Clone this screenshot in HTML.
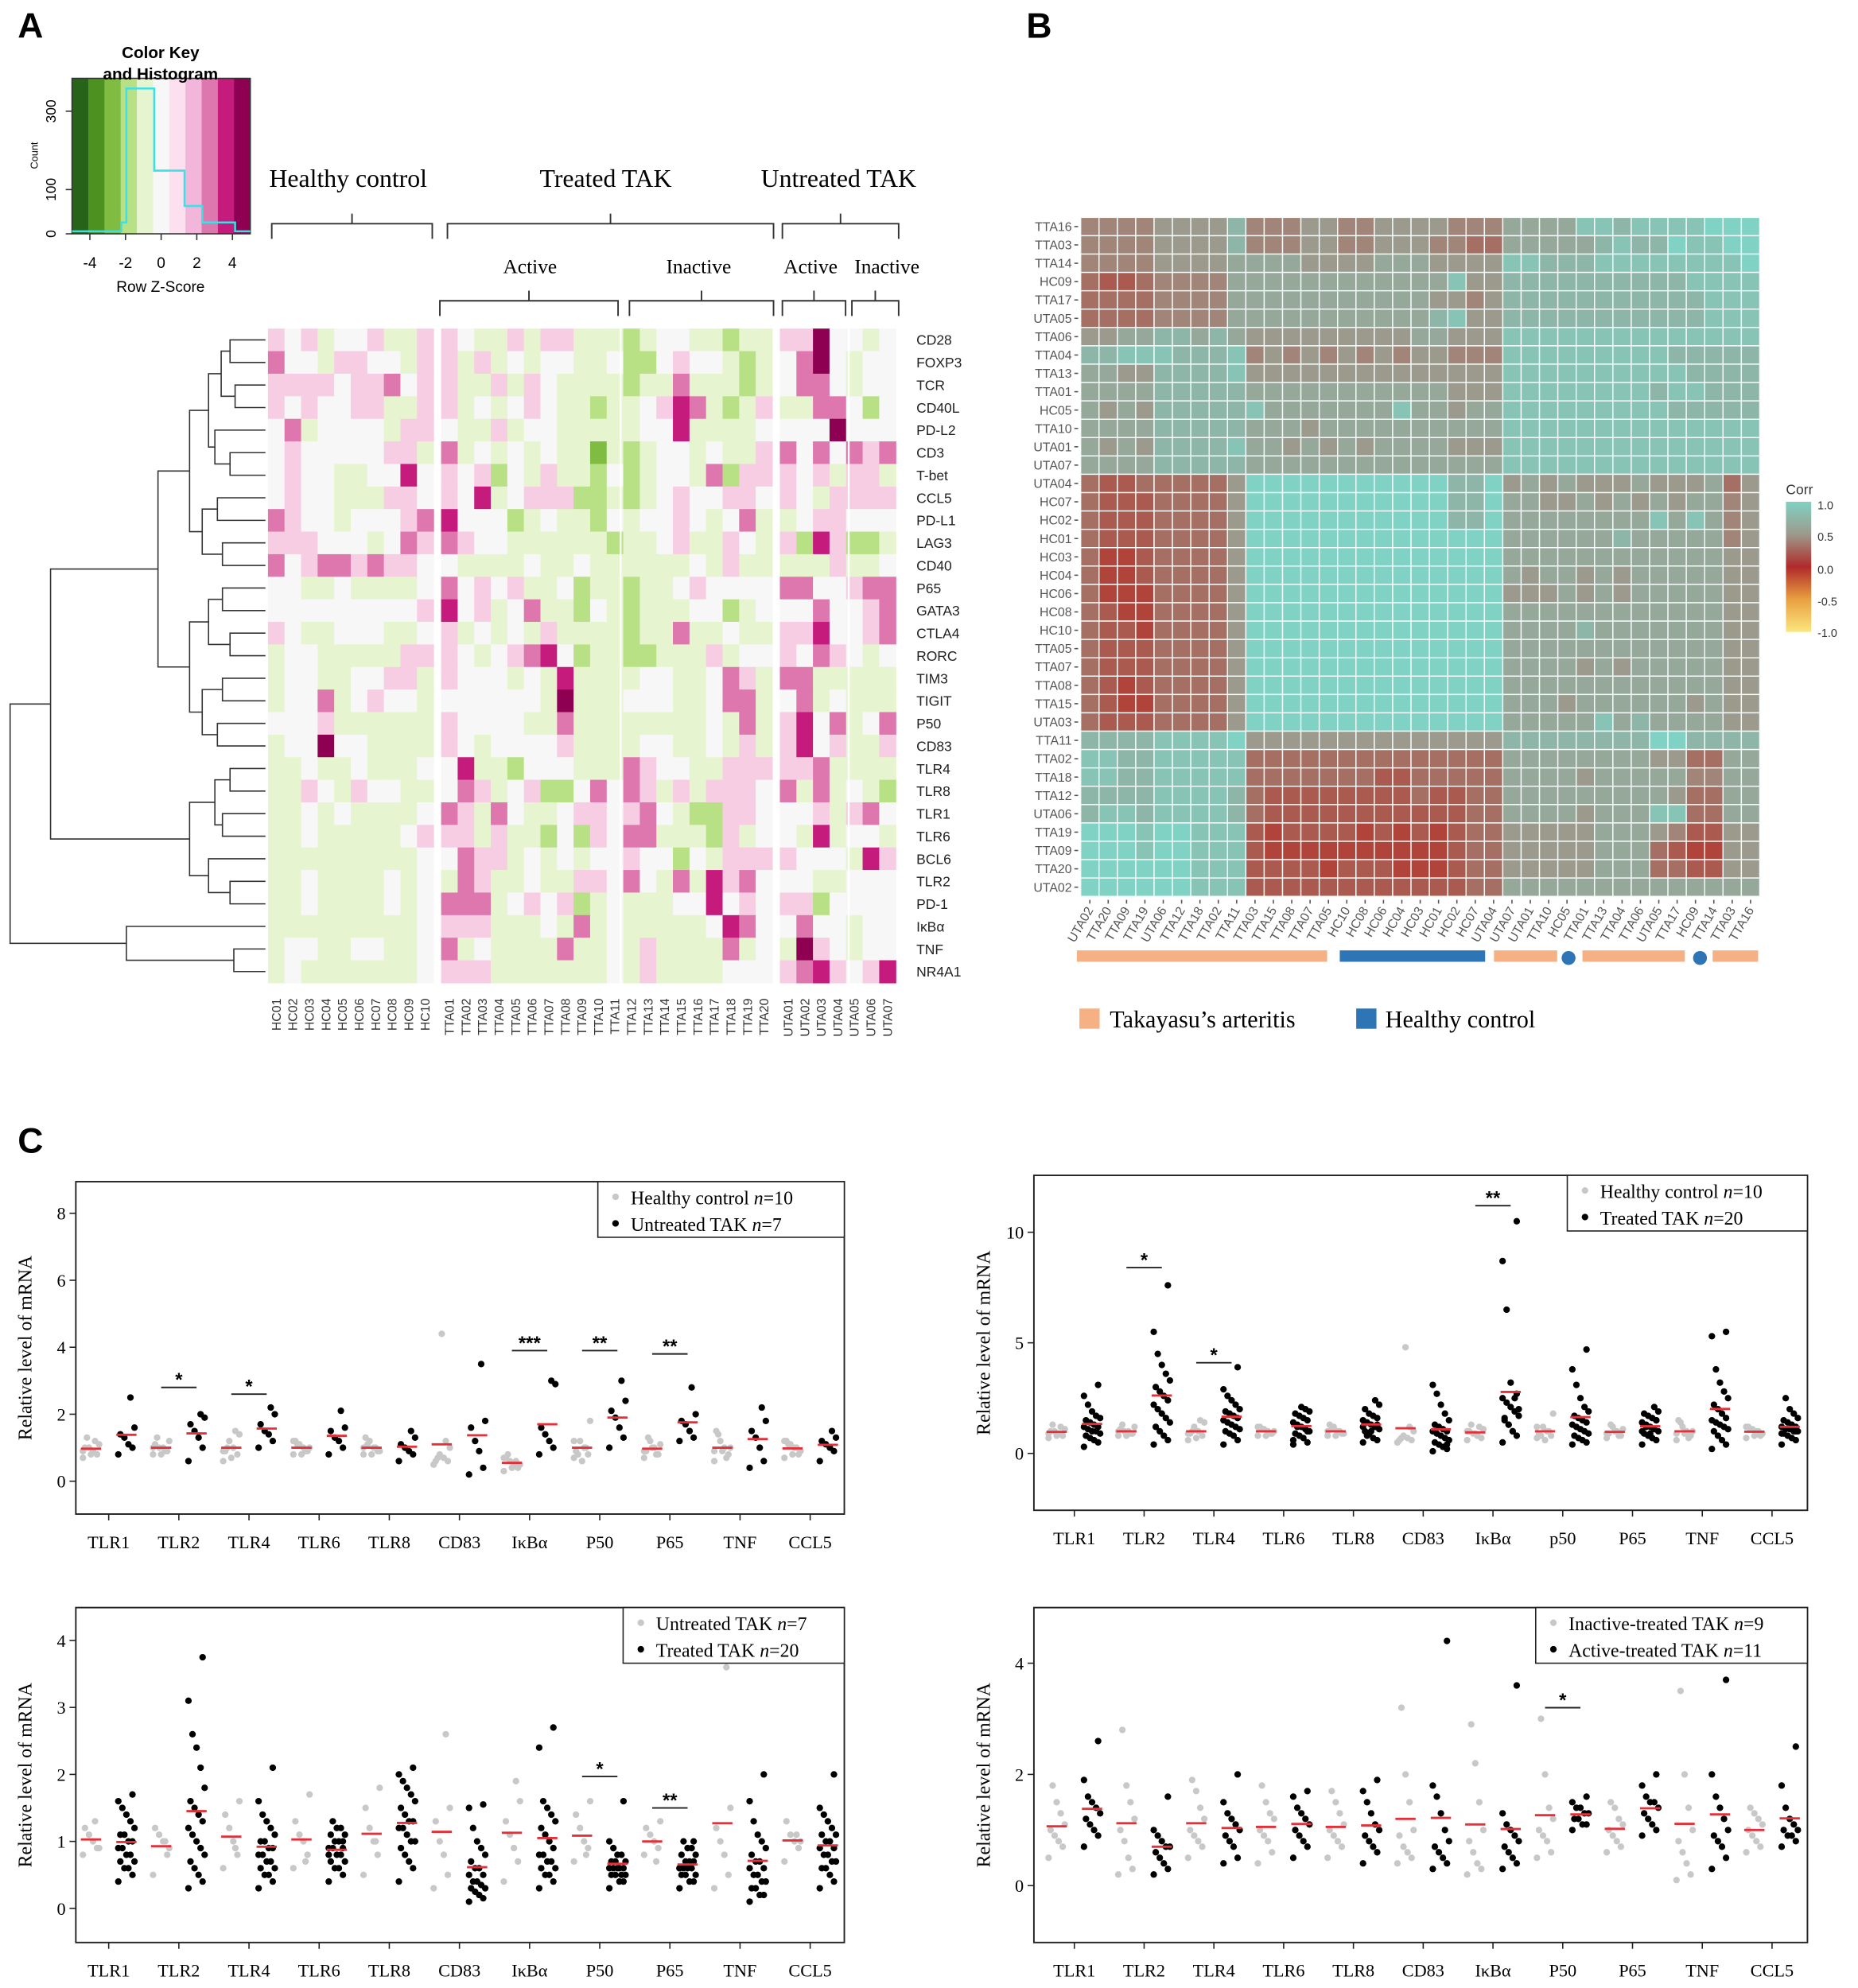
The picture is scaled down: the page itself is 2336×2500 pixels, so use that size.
<!DOCTYPE html>
<html><head><meta charset="utf-8"><style>
html,body{margin:0;padding:0;background:#fff}
svg{display:block}
</style></head><body>
<svg id="fig" xmlns="http://www.w3.org/2000/svg" width="2336" height="2500" viewBox="0 0 1470 1573" preserveAspectRatio="none" font-family="Liberation Sans, sans-serif">
<rect width="1470" height="1573" fill="#fff"/>
<text x="14" y="30" font-size="28" font-weight="bold">A</text>
<text x="812" y="30" font-size="28" font-weight="bold">B</text>
<text x="14" y="912" font-size="28" font-weight="bold">C</text>
<g id="gA"></g>
<g id="gB"></g>
<g id="gC"></g>
</svg>
<script>
const NS="http://www.w3.org/2000/svg";
function el(parent,tag,attrs,txt){const e=document.createElementNS(NS,tag);for(const k in attrs)e.setAttribute(k,attrs[k]);if(txt!==undefined)e.textContent=txt;parent.appendChild(e);return e;}

// ================= Panel A data =================
const genes=["CD28","FOXP3","TCR","CD40L","PD-L2","CD3","T-bet","CCL5","PD-L1","LAG3","CD40","P65","GATA3","CTLA4","RORC","TIM3","TIGIT","P50","CD83","TLR4","TLR8","TLR1","TLR6","BCL6","TLR2","PD-1","IκBα","TNF","NR4A1"];
const samplesA=["HC01","HC02","HC03","HC04","HC05","HC06","HC07","HC08","HC09","HC10","TTA01","TTA02","TTA03","TTA04","TTA05","TTA06","TTA07","TTA08","TTA09","TTA10","TTA11","TTA12","TTA13","TTA14","TTA15","TTA16","TTA17","TTA18","TTA19","TTA20","UTA01","UTA02","UTA03","UTA04","UTA05","UTA06","UTA07"];
const zrows=[
"pwplwwpllp"+"pwllplppllll".slice(0,11)+"glwwllgll"+"ppMw"+"wlw",
"qwwlppwwlp"+"plplwlwwllw"+"ggwpwwlgl"+"wqMw"+"lww",
"ppppwppqwp"+"pllplpwllll"+"gllqlllgl"+"wqqw"+"lww",
"pwpwwppllp"+"plwlwpwllgl"+"lwpmqlglp"+"llqq"+"wgw",
"wqlwwwwlpp"+"wllplwwllll"+"lwwmlllll".slice(0,8)+"w"+"wwwM"+"www",
"wpwwwwwppl"+"qlwlwlwllGl"+"glwwlwllp"+"qwqw"+"qpq",
"wpwwllwwmw"+"pwpgwlpllgw"+"glwwlqgpp"+"pwpl"+"ppl",
"wpwwlllppw"+"pwmlwpppggl"+"glwpwwppw"+"pwlp"+"ppp",
"qpwwlwwwpq"+"mwwwglwllgw"+"lwwpwlwql"+"lwpp"+"www",
"pppwwwlwqp"+"qpwwllllllgl".slice(0,11)+"llwpllpwl"+"pgmp"+"ggl",
"qwpqqpqppw"+"wllllwllwll"+"llllwlpll"+"lllp"+"llw",
"wwllwllllw"+"qwpwpllwgll"+"gllwpwwww"+"qqww"+"pqq",
"wwwwwwwwwp"+"mwplwqllgwl"+"glllwwglw"+"wwqw"+"wpq",
"pwllwwwllw"+"plwlwlplll"+"l"+"gllqllwll"+"ppmw"+"wpq",
"lwwlllllp".slice(0,9)+"p"+"pwlwpqmwgll"+"gglllplw".slice(0,8)+"w"+"pwqp"+"wlw",
"lwwllwwppl"+"pwwwlwlmlll"+"lwwllwqpl"+"qqll"+"lll",
"lwwqlwpwwl"+"wwwwwwlMlll"+"wwwllwqql"+"wqlw"+"lll",
"wwwpllllll"+"pwwwwllqlll"+"lllllwlql"+"pmwq"+"lwq",
"lwwMwwllll"+"pwlwwwwplll"+"lwwllwlpl"+"pmwp"+"llp",
"llwllwlllw"+"wmllgwwwlll"+"qpwwllppp"+"ppql"+"lll",
"llpwlpwwll"+"wqplwpggwqw"+"qplplpppw"+"qlql"+"wlg",
"llwlwllllw"+"qplqwllwppw"+"pqwlggppw"+"wwpl"+"pqw",
"llwlllllwp"+"pplpllgwgpw"+"qqlllgplw"+"wlml"+"wwl",
"lllllllllw"+"wqpplwlwlww"+"pwwgwlppp"+"pwww"+"lmp",
"llwllllwlw"+"lqpllwllppw"+"qwlqlmpqw"+"wwll"+"www",
"llwllllwlw"+"qqqlwpwpglw"+"lllwwmwpw"+"ppgw"+"www",
"lllllllllw"+"ppplllwlqlw".slice(0,11)+"lllllwmqw"+"wqww"+"lww",
"lwwllwwllw"+"qlwllllqllw"+"lpllllqlw"+"lMpw"+"lww",
"lwlllllllw"+"ppplllllllw"+"lpllllwww"+"pqmp"+"wpm"
];
const zcolors={M:"#8e0152",m:"#c51b7d",q:"#de77ae",p:"#f7cde3",w:"#f7f7f7",l:"#e6f5d0",g:"#b8e186",G:"#7fbc41"};
const tree=[8,[40,[125,[150,[165,[175,[182,0,1],[186,2,3]],[170,4,[182,5,6]]],[160,[172,7,8],[176,9,10]]],[150,[165,[176,11,12],[182,13,14]],[160,[176,15,16],[172,17,18]]]],[150,[170,[182,19,20],[176,21,22]],[165,23,[182,24,25]]]],[100,26,[185,27,28]]];

(function(){
 const g=document.getElementById("gA");
 const cw=13.1, rh=17.85, y0=260;
 function colX(i){ if(i<10) return 212+i*cw; if(i<30) return 349+(i-10)*cw; return 617+(i-30)*cw; }
 for(let r=0;r<genes.length;r++){
  const row=zrows[r];
  for(let c=0;c<samplesA.length;c++){
   const ch=row[c]||"w";
   const rc=el(g,"rect",{x:colX(c).toFixed(2),y:(y0+r*rh).toFixed(2),width:cw+0.4,height:rh+0.4,fill:zcolors[ch]||"#f7f7f7"});
   
   
  }
  const t=el(g,"text",{x:725,y:(y0+r*rh+rh/2+4).toFixed(1),"font-size":11,fill:"#222"},genes[r]);
  
  
 }
 // divider between TTA11 and TTA12
 el(g,"line",{x1:491,y1:260,x2:491,y2:778,stroke:"#fff","stroke-width":1.5});
 el(g,"line",{x1:671.5,y1:260,x2:671.5,y2:778,stroke:"#fff","stroke-width":1.5});
 for(let c=0;c<samplesA.length;c++){
  const x=colX(c)+cw/2+3.5;
  const t=el(g,"text",{x:x,y:790,"font-size":10,fill:"#333","text-anchor":"end",transform:`rotate(-90 ${x} 790)`},samplesA[c]);
  
  
 }
 // dendrogram
 function draw(node){
  if(typeof node==="number") return {x:210,y:y0+node*rh+rh/2};
  const a=draw(node[1]), b=draw(node[2]), hx=node[0];
  el(g,"path",{d:`M${a.x},${a.y}H${hx}V${b.y}H${b.x}`,fill:"none",stroke:"#333","stroke-width":1});
  return {x:hx,y:(a.y+b.y)/2};
 }
 draw(tree);
 // headers
 const hdr=[["Healthy  control",213,148],["Treated TAK",427,148],["Untreated TAK",602,148]];
 hdr.forEach(h=>{const t=el(g,"text",{x:h[1],y:h[2],"font-size":20,"font-family":"Liberation Serif, serif"},h[0]);});
 const sub=[["Active",398,216],["Inactive",527,216],["Active",620,216],["Inactive",676,216]];
 sub.forEach(h=>{const t=el(g,"text",{x:h[1],y:h[2],"font-size":16,"font-family":"Liberation Serif, serif"},h[0]);});
 function brace(x1,x2,y){el(g,"path",{d:`M${x1},${y+12}V${y}H${x2}V${y+12}M${(x1+x2)/2},${y}V${y-8}`,fill:"none",stroke:"#333","stroke-width":1.2});}
 brace(215,342,177);brace(354,612,177);brace(619,711,177);
 brace(348,489,238);brace(498,612,238);brace(619,669,238);brace(674,711,238);
 // color key
 const keyCols=["#276419","#4d9221","#7fbc41","#b8e186","#e6f5d0","#f7f7f7","#fde0ef","#f1b6da","#de77ae","#c51b7d","#8e0152"];
 const kx=57,kw=141/keyCols.length;
 keyCols.forEach((c,i)=>{el(g,"rect",{x:kx+i*kw,y:62,width:kw+0.3,height:123,fill:c});});
 el(g,"rect",{x:57,y:62,width:141,height:123,fill:"none",stroke:"#333","stroke-width":1});
 el(g,"path",{d:"M57,183H96V176H100V70H122V135H146V163H160V176H186V183H198",fill:"none",stroke:"#3ee0e8","stroke-width":1.6});
 el(g,"text",{x:127,y:46,"font-size":13,"font-weight":"bold","text-anchor":"middle"},"Color Key");
 el(g,"text",{x:127,y:63,"font-size":13,"font-weight":"bold","text-anchor":"middle"},"and Histogram");
 [-4,-2,0,2,4].forEach(v=>{const x=57+ (v+5)/10*141;el(g,"line",{x1:x,y1:185,x2:x,y2:190,stroke:"#333"});el(g,"text",{x:x,y:212,"font-size":12,"text-anchor":"middle"},String(v));});
 el(g,"text",{x:127,y:231,"font-size":12,"text-anchor":"middle"},"Row Z-Score");
 [[0,185],[100,150],[300,88]].forEach(p=>{el(g,"line",{x1:52,y1:p[1],x2:57,y2:p[1],stroke:"#333"});el(g,"text",{x:44,y:p[1],"font-size":11,"text-anchor":"middle",transform:`rotate(-90 44 ${p[1]})`},String(p[0]));});
 el(g,"text",{x:30,y:123,"font-size":8,"text-anchor":"middle",transform:"rotate(-90 30 123)"},"Count");
})();

// ================= Panel B data =================
const colsB=["UTA02","TTA20","TTA09","TTA19","UTA06","TTA12","TTA18","TTA02","TTA11","TTA03","TTA15","TTA08","TTA07","TTA05","HC10","HC08","HC06","HC04","HC03","HC01","HC02","HC07","UTA04","UTA07","UTA01","TTA10","HC05","TTA01","TTA13","TTA04","TTA06","UTA05","TTA17","HC09","TTA14","TTA03","TTA16"];
const rowsB=["TTA16","TTA03","TTA14","HC09","TTA17","UTA05","TTA06","TTA04","TTA13","TTA01","HC05","TTA10","UTA01","UTA07","UTA04","HC07","HC02","HC01","HC03","HC04","HC06","HC08","HC10","TTA05","TTA07","TTA08","TTA15","UTA03","TTA11","TTA02","TTA18","TTA12","UTA06","TTA19","TTA09","TTA20","UTA02"];
const corrB=[
"444455557"+"44455445555444"+"66668878888999",
"444455557"+"44455445554433"+"66666787798899",
"444455556"+"66655556665555"+"88777888888889",
"322344446"+"66666666666855"+"77777777778888",
"333344446"+"66666666665545"+"77777777777888",
"333344446"+"66666666667855"+"77777777777888",
"556677676"+"55555555566555"+"88888888888888",
"778887778"+"45454545455444"+"88888888877777",
"665577778"+"55555555555555"+"88888888887777",
"666677777"+"66666666666555"+"88888888788777",
"656577777"+"86666666866566"+"88888888877777",
"666677777"+"66656666666666"+"88888888888888",
"656577778"+"66565656666555"+"88888888888888",
"666677777"+"66666666666666"+"88888888888888",
"322333335"+"99999999999779"+"56565556555635",
"322233335"+"99999999999779"+"66556565656645",
"322233335"+"99999999999779"+"66666666868645",
"322233335"+"99999999999999"+"66666676666645",
"311233335"+"99999999999999"+"66666666666655",
"311233335"+"99999999999999"+"65665656666655",
"311133335"+"99999999999999"+"55565656666655",
"321133335"+"99999999999999"+"66666666666655",
"322133335"+"99999999999999"+"66667666666655",
"322233335"+"99999999999999"+"66666666666655",
"322233335"+"99999999999999"+"66665656666655",
"321233335"+"99999999999999"+"66666666666655",
"321133335"+"99999999999999"+"66656666665655",
"322233335"+"99999999999999"+"66666867666655",
"777788889"+"55555555555555"+"77777777997777",
"887788888"+"33333333333333"+"66666666553366",
"887788888"+"33333332233333"+"66665666664466",
"777788887"+"32222222232233"+"66666666653366",
"788788887"+"32222222222233"+"66665666883366",
"999899888"+"21222212121233"+"55555666542255",
"999899888"+"21111111111233"+"55555666321155",
"999999888"+"22221222111233"+"55555666332255",
"999999888"+"22222222222233"+"66666666666666"
];
(function(){
 const g=document.getElementById("gB");
 const x0=855,y0=172,cs=14.52;
 const red=[176,68,58],gray=[156,154,140],cyan=[128,210,196];
 function lerp(a,b,t){return a.map((v,i)=>Math.round(v+(b[i]-v)*t));}
 function col(d){let c; if(d<=5) c=lerp(red,gray,Math.max(0,(d-1)/4)); else c=lerp(gray,cyan,(d-5)/4); return `rgb(${c})`;}
 for(let r=0;r<rowsB.length;r++){
  for(let c=0;c<colsB.length;c++){
   const d=+corrB[r][c];
   const rc=el(g,"rect",{x:(x0+c*cs).toFixed(2),y:(y0+r*cs).toFixed(2),width:cs,height:cs,fill:col(d),stroke:"#f4fbfa","stroke-width":0.9});
   
   
  }
  const t=el(g,"text",{x:848,y:(y0+r*cs+cs/2+3.5).toFixed(1),"font-size":10,fill:"#555","text-anchor":"end"},rowsB[r]);
  
  
  el(g,"line",{x1:850,y1:y0+r*cs+cs/2,x2:853,y2:y0+r*cs+cs/2,stroke:"#555"});
 }
 for(let c=0;c<colsB.length;c++){
  const x=x0+c*cs+cs/2;
  el(g,"line",{x1:x,y1:712,x2:x,y2:715,stroke:"#555"});
  const t=el(g,"text",{x:x+3,y:720,"font-size":10,fill:"#555","text-anchor":"end",transform:`rotate(-60 ${x+3} 720)`},colsB[c]);
  
  
 }
 // Corr legend
 el(g,"text",{x:1413,y:391,"font-size":11,fill:"#333"},"Corr");
 const defs=el(g,"defs",{});
 const lg=el(defs,"linearGradient",{id:"corrg",x1:0,y1:0,x2:0,y2:1});
 [["0","#80d2c4"],["0.25","#9c9a8c"],["0.5","#b02a2a"],["0.75","#e8a040"],["1","#fbe680"]].forEach(s=>el(lg,"stop",{offset:s[0],"stop-color":s[1]}));
 el(g,"rect",{x:1413,y:397,width:20,height:103,fill:"url(#corrg)"});
 [["1.0",400],["0.5",425],["0.0",451],["-0.5",476],["-1.0",501]].forEach(t=>el(g,"text",{x:1438,y:t[1]+3,"font-size":9,fill:"#333"},t[0]));
 // group bars
 const orange="#f5b183", blue="#2e75b6";
 [[852,1050,orange],[1060,1175,blue],[1182,1232,orange],[1252,1333,orange],[1355,1391,orange]].forEach(b=>{const r=el(g,"rect",{x:b[0],y:752,width:b[1]-b[0],height:9,fill:b[2]});});
 el(g,"circle",{cx:1241,cy:758,r:5.5,fill:blue});
 el(g,"circle",{cx:1345,cy:758,r:5.5,fill:blue});
 el(g,"rect",{x:854,y:798,width:16,height:16,fill:orange});
 const t1=el(g,"text",{x:878,y:813,"font-size":19,"font-family":"Liberation Serif, serif"},"Takayasu’s arteritis");
 
 el(g,"rect",{x:1073,y:798,width:16,height:16,fill:blue});
 const t2=el(g,"text",{x:1096,y:813,"font-size":19,"font-family":"Liberation Serif, serif"},"Healthy  control");
 
})();

// ================= Panel C data =================
const catsP1=["TLR1","TLR2","TLR4","TLR6","TLR8","CD83","IκBα","P50","P65","TNF","CCL5"];
const catsP2=["TLR1","TLR2","TLR4","TLR6","TLR8","CD83","IκBα","p50","P65","TNF","CCL5"];
// Plot 1: Healthy control vs Untreated TAK
const p1Gray=["0.7 0.8 0.9 1.0 1.0 1.1 1.2 0.8 1.3 0.9","0.8 0.9 1.0 1.0 1.1 1.2 0.9 0.8 1.3 1.0","0.6 0.8 1.0 1.2 0.9 1.4 1.5 0.7 1.0 0.9","0.8 0.9 1.0 1.1 1.2 1.0 0.9 0.8 1.1 1.2","0.8 0.9 1.0 1.2 1.3 0.9 1.0 0.8 1.1 1.0","0.5 0.6 0.7 0.8 0.6 1.0 1.2 4.4 0.7 0.5","0.3 0.4 0.5 0.6 0.7 0.5 0.6 0.4 0.8 0.7","0.7 0.8 1.0 1.2 0.9 1.8 1.0 0.6 0.8 1.2","0.7 0.8 1.0 1.2 0.9 1.1 0.8 1.0 1.3 0.9","0.6 0.8 1.0 1.2 1.5 1.0 0.7 0.9 1.4 0.9","0.7 0.8 1.0 1.1 1.2 0.9 1.0 0.8 1.1 1.2"];
const p1Black=["0.8 1.0 1.1 1.3 1.4 1.6 2.5","0.6 1.0 1.3 1.5 1.7 1.9 2.0","1.0 1.2 1.4 1.5 1.7 2.0 2.2","0.8 1.0 1.2 1.3 1.5 1.6 2.1","0.6 0.8 0.9 1.0 1.1 1.3 1.5","0.2 0.4 0.9 1.2 1.6 1.8 3.5","0.8 1.0 1.2 1.4 1.6 2.9 3.0","1.0 1.3 1.6 1.9 2.1 2.4 3.0","1.2 1.3 1.5 1.7 1.8 2.0 2.8","0.4 0.6 1.0 1.3 1.5 1.8 2.2","0.6 0.9 1.0 1.1 1.2 1.3 1.5"];
const p1Yticks=[0,2,4,6,8];
const p1Sig=[[1,2.8,"*"],[2,2.6,"*"],[6,3.9,"***"],[7,3.9,"**"],[8,3.8,"**"]];
// Plot 2: Healthy control vs Treated TAK
const p2Gray=["0.7 0.8 0.9 1.0 1.0 1.1 1.2 0.8 1.3 0.9","0.8 0.9 1.0 1.0 1.1 1.2 0.9 0.8 1.3 1.0","0.6 0.8 1.0 1.2 0.9 1.4 1.5 0.7 1.0 0.9","0.8 0.9 1.0 1.1 1.2 1.0 0.9 0.8 1.1 1.2","0.8 0.9 1.0 1.2 1.3 0.9 1.0 0.8 1.1 1.0","0.5 0.6 0.7 0.8 0.6 1.0 1.2 4.8 0.7 0.5","0.6 0.7 0.8 0.9 1.0 1.1 1.2 0.9 1.3 1.0","0.7 0.8 1.0 1.2 0.9 1.8 1.0 0.6 0.8 1.2","0.7 0.8 1.0 1.2 0.9 1.1 0.8 1.0 1.3 0.9","0.6 0.8 1.0 1.2 1.5 1.0 0.7 0.9 1.4 0.9","0.7 0.8 1.0 1.1 1.2 0.9 1.0 0.8 1.1 1.2"];
const p2Black=["0.3 0.5 0.6 0.7 0.8 0.9 1.0 1.0 1.1 1.2 1.2 1.3 1.4 1.5 1.6 1.7 1.9 2.2 2.6 3.1","0.4 0.6 0.8 1.0 1.2 1.4 1.6 1.8 2.0 2.2 2.4 2.6 2.8 3.0 3.3 3.6 4.0 4.5 5.5 7.6","0.4 0.6 0.8 0.9 1.0 1.1 1.2 1.3 1.4 1.5 1.6 1.7 1.8 1.9 2.0 2.2 2.4 2.6 2.9 3.9","0.4 0.5 0.7 0.8 0.9 1.0 1.1 1.2 1.3 1.4 1.5 1.6 1.7 1.8 1.9 2.0 2.1 1.2 0.6 1.0","0.5 0.6 0.7 0.9 1.0 1.1 1.2 1.3 1.4 1.5 1.6 1.7 1.8 2.0 2.2 2.4 1.0 0.8 1.2 1.3","0.1 0.2 0.3 0.4 0.5 0.6 0.7 0.8 0.9 1.0 1.0 1.1 1.2 1.3 1.5 1.8 2.2 2.7 3.1 0.4","0.5 0.8 1.0 1.3 1.5 1.7 1.9 2.1 2.3 2.5 2.7 1.0 1.3 1.6 2.0 2.5 3.2 6.5 8.7 10.5","0.4 0.5 0.6 0.7 0.8 0.9 1.0 1.1 1.2 1.3 1.4 1.5 1.6 1.7 1.9 2.1 2.5 3.1 3.8 4.7","0.4 0.6 0.7 0.8 0.9 1.0 1.1 1.2 1.3 1.4 1.5 1.6 1.7 1.8 1.9 2.1 0.9 1.2 1.0 1.5","0.2 0.4 0.6 0.8 1.0 1.1 1.2 1.3 1.4 1.5 1.6 1.8 2.0 2.2 2.5 2.8 3.2 3.8 5.3 5.5","0.4 0.6 0.7 0.8 0.9 1.0 1.0 1.1 1.1 1.2 1.2 1.3 1.4 1.5 1.6 1.8 2.0 2.5 0.9 1.0"];
const p2Yticks=[0,5,10];
const p2Sig=[[1,8.4,"*"],[2,4.1,"*"],[6,11.2,"**"]];
// Plot 3: Untreated TAK vs Treated TAK
const p3Gray=["0.8 0.9 1.0 1.1 1.2 0.9 1.3","0.5 0.8 1.0 1.1 1.2 0.9 1.0","0.6 0.8 1.0 1.2 1.4 1.6 0.9","0.6 0.8 1.0 1.1 1.3 1.7 0.7","0.5 0.8 1.0 1.2 1.5 1.8 1.0","0.3 0.5 0.8 1.0 1.3 1.5 2.6","0.4 0.7 0.9 1.1 1.3 1.6 1.9","0.7 0.9 1.0 1.2 1.4 1.6 0.8","0.8 0.9 1.0 1.1 1.2 1.3 0.7","0.3 0.5 0.8 1.0 1.2 1.5 3.6","0.7 0.9 1.0 1.1 1.3 1.0 1.1"];
const p3Black=["0.4 0.5 0.6 0.6 0.7 0.7 0.8 0.8 0.9 0.9 1.0 1.0 1.1 1.1 1.2 1.3 1.4 1.5 1.6 1.7","0.3 0.4 0.5 0.6 0.7 0.8 0.9 1.0 1.1 1.2 1.3 1.4 1.5 1.6 1.8 2.1 2.4 2.6 3.1 3.75","0.3 0.4 0.5 0.5 0.6 0.6 0.7 0.7 0.8 0.8 0.9 0.9 1.0 1.0 1.1 1.2 1.3 1.4 1.6 2.1","0.4 0.5 0.6 0.6 0.7 0.7 0.8 0.8 0.9 0.9 1.0 1.0 1.0 1.1 1.1 1.2 1.2 1.3 0.8 0.9","0.4 0.6 0.7 0.8 0.9 1.0 1.0 1.1 1.2 1.2 1.3 1.3 1.4 1.5 1.6 1.7 1.8 1.9 2.0 2.1","0.1 0.15 0.2 0.25 0.3 0.3 0.35 0.4 0.4 0.5 0.5 0.6 0.6 0.7 0.8 0.9 1.0 1.2 1.5 1.55","0.3 0.4 0.5 0.5 0.6 0.6 0.7 0.7 0.8 0.8 0.9 1.0 1.1 1.2 1.3 1.4 1.5 1.6 2.4 2.7","0.3 0.4 0.4 0.5 0.5 0.5 0.5 0.6 0.6 0.6 0.6 0.6 0.7 0.7 0.7 0.8 0.8 0.9 1.0 1.6","0.3 0.4 0.4 0.5 0.5 0.5 0.6 0.6 0.6 0.6 0.7 0.7 0.7 0.8 0.8 0.9 0.9 1.0 0.6 1.0","0.1 0.2 0.2 0.3 0.3 0.4 0.4 0.5 0.5 0.6 0.6 0.7 0.7 0.8 0.9 1.0 1.1 1.3 1.6 2.0","0.3 0.4 0.5 0.6 0.6 0.7 0.7 0.8 0.8 0.9 0.9 1.0 1.0 1.1 1.1 1.2 1.3 1.4 1.5 2.0"];
const p3Yticks=[0,1,2,3,4];
const p3Sig=[[7,1.97,"*"],[8,1.5,"**"]];
// Plot 4: Inactive-treated vs Active-treated TAK
const p4Gray=["0.5 0.7 0.8 0.9 1.0 1.1 1.3 1.5 1.8","0.2 0.3 0.5 0.8 1.0 1.2 1.5 1.8 2.8","0.5 0.7 0.8 0.9 1.0 1.2 1.4 1.7 1.9","0.4 0.6 0.8 0.9 1.0 1.2 1.3 1.5 1.8","0.5 0.7 0.8 0.9 1.0 1.1 1.3 1.5 1.7","0.4 0.5 0.6 0.7 0.9 1.0 1.5 2.0 3.2","0.2 0.3 0.4 0.6 0.8 1.0 1.5 2.2 2.9","0.5 0.6 0.8 0.9 1.0 1.2 1.4 2.0 3.0","0.6 0.7 0.8 0.9 1.0 1.1 1.2 1.4 1.5","0.1 0.2 0.4 0.6 0.8 1.0 1.4 2.0 3.5","0.6 0.7 0.8 0.9 1.0 1.1 1.2 1.3 1.4"];
const p4Black=["0.7 0.9 1.0 1.1 1.2 1.3 1.4 1.5 1.6 1.9 2.6","0.2 0.3 0.4 0.5 0.6 0.7 0.7 0.8 0.9 1.0 1.6","0.4 0.5 0.7 0.8 0.9 1.0 1.1 1.2 1.3 1.5 2.0","0.5 0.7 0.8 0.9 1.0 1.1 1.2 1.3 1.4 1.6 1.7","0.4 0.6 0.7 0.8 0.9 1.0 1.1 1.3 1.5 1.7 1.9","0.3 0.4 0.5 0.6 0.7 0.8 1.0 1.3 1.6 1.8 4.4","0.3 0.4 0.5 0.6 0.7 0.8 0.9 1.0 1.1 1.3 3.6","1.0 1.1 1.1 1.2 1.2 1.3 1.3 1.4 1.4 1.5 1.6","0.9 1.0 1.1 1.2 1.3 1.4 1.5 1.5 1.6 1.8 2.0","0.3 0.5 0.7 0.8 0.9 1.0 1.2 1.4 1.6 2.0 3.7","0.7 0.8 0.9 0.9 1.0 1.0 1.1 1.2 1.4 1.8 2.5"];
const p4Yticks=[0,2,4];
const p4Sig=[[7,3.2,"*"]];

(function(){
 const g=document.getElementById("gC");
 const serif="Liberation Serif, serif";
 function plot(o){
  const pg=el(g,"g",{});
  
  
  const yScale=v=>o.zeroY - v*o.unit;
  const xScale=i=>o.cat0 + i*o.step;
  el(pg,"rect",{x:o.x1,y:o.y1,width:o.x2-o.x1,height:o.y2-o.y1,fill:"none",stroke:"#222","stroke-width":1.2});
  o.yticks.forEach(v=>{const y=yScale(v);el(pg,"line",{x1:o.x1-5,y1:y,x2:o.x1,y2:y,stroke:"#222"});
   const t=el(pg,"text",{x:o.x1-8,y:y+5,"font-size":14,"text-anchor":"end","font-family":serif},String(v));
   });
  o.cats.forEach((c,i)=>{const x=xScale(i);el(pg,"line",{x1:x,y1:o.y2,x2:x,y2:o.y2+5,stroke:"#222"});
   const t=el(pg,"text",{x:x,y:o.y2+27,"font-size":14,"text-anchor":"middle","font-family":serif},c);
   });
  const ym=(o.y1+o.y2)/2;
  const yt=el(pg,"text",{x:o.x1-35,y:ym,"font-size":15,"text-anchor":"middle","font-family":serif,transform:`rotate(-90 ${o.x1-35} ${ym})`},"Relative level of mRNA");
  
  function series(arr,off,color){
   arr.forEach((s,i)=>{
    const vals=s.split(" ").map(Number);
    const cx=xScale(i)+off;
    vals.forEach((v,k)=>{
     const dx=((k*7)%9-4)*1.6;
     const c=el(pg,"circle",{cx:(cx+dx).toFixed(1),cy:yScale(v).toFixed(1),r:2.6,fill:color});
     
     
    });
    const m=vals.reduce((a,b)=>a+b,0)/vals.length;
    const ln=el(pg,"line",{x1:cx-8,x2:cx+8,y1:yScale(m),y2:yScale(m),stroke:"#e5303a","stroke-width":1.8});
    
    
   });
  }
  series(o.gray,-14,"#c8c8c8");
  series(o.black,14,"#000");
  o.sig.forEach(s=>{const x=xScale(s[0]),y=yScale(s[1]);
   el(pg,"line",{x1:x-14,x2:x+14,y1:y,y2:y,stroke:"#222","stroke-width":1.2});
   el(pg,"text",{x:x,y:y-1,"font-size":15,"text-anchor":"middle","font-weight":"bold"},s[2]);});
  // legend
  const L=o.legend;
  const lg=el(pg,"g",{});
  
  
  el(lg,"rect",{x:L.x,y:o.y1,width:o.x2-L.x,height:44,fill:"#fff",stroke:"#222","stroke-width":1});
  el(lg,"circle",{cx:L.x+14,cy:o.y1+12,r:2.6,fill:"#c8c8c8"});
  el(lg,"circle",{cx:L.x+14,cy:o.y1+33,r:2.6,fill:"#000"});
  const t1=el(lg,"text",{x:L.x+26,y:o.y1+18,"font-size":15,"font-family":serif},L.a);
  el(t1,"tspan",{"font-style":"italic"},"n");t1.appendChild(document.createTextNode("="+L.na));
  const t2=el(lg,"text",{x:L.x+26,y:o.y1+39,"font-size":15,"font-family":serif},L.b);
  el(t2,"tspan",{"font-style":"italic"},"n");t2.appendChild(document.createTextNode("="+L.nb));
 }
 plot({name:"plot-hc-vs-untreated",x1:60,x2:668,y1:935,y2:1198,zeroY:1172,unit:26.5,cat0:86,step:55.5,cats:catsP1,yticks:p1Yticks,gray:p1Gray,black:p1Black,sig:p1Sig,legend:{x:473,a:"Healthy control ",na:"10",b:"Untreated TAK ",nb:"7"}});
 plot({name:"plot-hc-vs-treated",x1:818,x2:1430,y1:930,y2:1195,zeroY:1150,unit:17.5,cat0:850,step:55.2,cats:catsP2,yticks:p2Yticks,gray:p2Gray,black:p2Black,sig:p2Sig,legend:{x:1240,a:"Healthy control ",na:"10",b:"Treated TAK ",nb:"20"}});
 plot({name:"plot-untreated-vs-treated",x1:60,x2:668,y1:1272,y2:1537,zeroY:1510,unit:53,cat0:86,step:55.5,cats:catsP1,yticks:p3Yticks,gray:p3Gray,black:p3Black,sig:p3Sig,legend:{x:493,a:"Untreated TAK ",na:"7",b:"Treated TAK ",nb:"20"}});
 plot({name:"plot-inactive-vs-active",x1:818,x2:1430,y1:1272,y2:1537,zeroY:1492,unit:44,cat0:850,step:55.2,cats:catsP1,yticks:p4Yticks,gray:p4Gray,black:p4Black,sig:p4Sig,legend:{x:1215,a:"Inactive-treated TAK ",na:"9",b:"Active-treated TAK ",nb:"11"}});
})();
</script>
</body></html>
